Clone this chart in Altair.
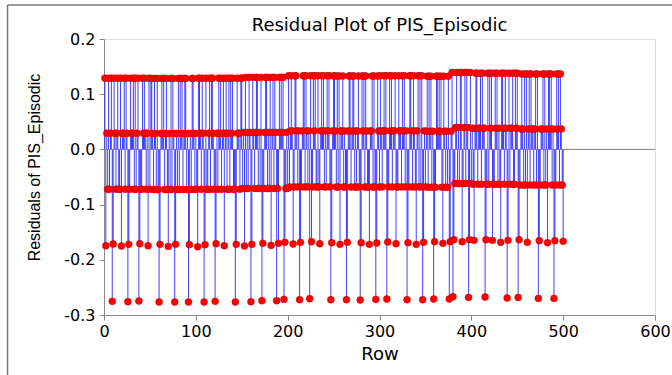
import altair as alt
import pandas as pd

# ---- data ----
# rows whose residual sits near -0.17
low1_rows = [2, 10, 19, 27, 39, 48, 61, 70, 78, 93, 102, 110, 122, 131, 144, 153, 161, 173, 182, 190,
             197, 206, 214, 226, 235, 248, 257, 265, 280, 289, 297, 309, 318, 331, 340, 348, 360, 369, 377, 381,
             390, 398, 403, 416, 423, 432, 440, 452, 461, 474, 483, 491, 500]
low1_vals = [-0.1745, -0.1714, -0.1750, -0.1720, -0.1708, -0.1745, -0.1720, -0.1757, -0.1720, -0.1726,
             -0.1763, -0.1726, -0.1708, -0.1745, -0.1720, -0.1750, -0.1720, -0.1702, -0.1739, -0.1702,
             -0.1684, -0.1714, -0.1684, -0.1672, -0.1708, -0.1690, -0.1720, -0.1684, -0.1690, -0.1720,
             -0.1696, -0.1678, -0.1708, -0.1690, -0.1720, -0.1684, -0.1672, -0.1702, -0.1672, -0.1636,
             -0.1672, -0.1636, -0.1648, -0.1636, -0.1648, -0.1684, -0.1648, -0.1636, -0.1684, -0.1654,
             -0.1690, -0.1654, -0.1666]
# rows whose residual sits near -0.27
low2_rows = [9, 26, 38, 60, 77, 92, 109, 121, 143, 160, 172, 188, 196, 213, 224, 247, 264, 279, 296, 308,
             330, 347, 359, 376, 380, 397, 415, 439, 451, 473, 490]
low2_vals = [-0.2753, -0.2759, -0.2747, -0.2765, -0.2765, -0.2765, -0.2765, -0.2753, -0.2765, -0.2759,
             -0.2741, -0.2741, -0.2717, -0.2723, -0.2705, -0.2723, -0.2723, -0.2729, -0.2717, -0.2711,
             -0.2723, -0.2723, -0.2711, -0.2711, -0.2668, -0.2681, -0.2675, -0.2693, -0.2681, -0.2699,
             -0.2699]
# remaining rows: residual level codes (1 ~ 0.13, 2 ~ 0.03, 3 ~ -0.07), in row order
dense_levels = {"1": 0.1290, "2": 0.0293, "3": -0.0722}
dense_codes = "".join([
    "1231321123213312", "2131231221313213", "3121232131123123", "1321213213231312",
    "2313121321132231", "1232311231213321", "3112323121321213", "2131213312231132",
    "1323121232113231", "3211323121312312", "1213231321231123", "2321131232131213",
    "3132121323121321", "1231312213232113", "2113232131213123", "3221313123123212",
    "1312132213312231", "2132311231232131", "3123213121323112", "1213123231213213",
    "2311321312132321", "1322131223131213", "3121323112312132", "2133121321231312",
    "1312232131322131", "3211213231213123", "2131321231213312",
])
# shift of the dense levels along the rows (read per block of rows)
block_ends = [50, 100, 150, 200, 250, 300, 350, 378, 400, 450, 500]
block_shift = [0.0, -0.0004, 0.0, 0.0015, 0.0043, 0.0040, 0.0043, 0.0036, 0.0103, 0.0091, 0.0076]

x_ticks = [0, 100, 200, 300, 400, 500, 600]
y_ticks = [-0.3, -0.2, -0.1, 0.0, 0.1, 0.2]

# ---- build table ----
sparse = dict(zip(low1_rows, low1_vals))
sparse.update(zip(low2_rows, low2_vals))
rows, vals = [], []
k = 0
for r in range(1, 501):
    if r in sparse:
        v = sparse[r]
    else:
        b = next(i for i, e in enumerate(block_ends) if r <= e)
        v = dense_levels[dense_codes[k]] + block_shift[b]
        k += 1
    rows.append(r)
    vals.append(round(v, 4))
df = pd.DataFrame({"Row": rows, "Residual": vals})

W, H = 551, 276
PL, PT = 104, 39
AX = "#8a8a8a"
FONT = "DejaVu Sans"

xenc = alt.X("Row:Q", scale=alt.Scale(domain=[0, 600], nice=False, zero=False),
             axis=alt.Axis(values=x_ticks, format="d", grid=False, tickSize=5, labelPadding=3,
                           labelFont=FONT, labelFontSize=16, labelColor="black", labelFlush=False,
                           domainColor=AX, tickColor=AX, title="Row", titleFont=FONT,
                           titleFontSize=18, titleFontWeight="normal", titleColor="black",
                           titleY=44, titleBaseline="alphabetic"))
yenc = alt.Y("Residual:Q", scale=alt.Scale(domain=[-0.3, 0.2], nice=False, zero=False),
             axis=alt.Axis(values=y_ticks, grid=False, tickSize=5, labelPadding=4,
                           labelExpr="replace(format(datum.value, '.1f'), '\u2212', '-')",
                           labelFont=FONT, labelFontSize=16, labelColor="black", labelFlush=False,
                           domainColor=AX, tickColor=AX, title="Residuals of PIS_Episodic",
                           titleFont="Liberation Sans", titleFontSize=16, titleFontWeight="normal",
                           titleColor="black", titleX=-70, titleY=128, titleAngle=270,
                           titleAlign="center", titleBaseline="middle"))

base = alt.Chart(df)
stems = base.mark_rule(color="#0000ff", strokeWidth=1, opacity=0.75).encode(
    x=xenc, y=yenc, y2=alt.datum(0))
zero = alt.Chart(pd.DataFrame({"z": [0.0]})).mark_rule(color="#808080", strokeWidth=1).encode(
    y=alt.Y("z:Q"))
dots = base.mark_point(filled=True, shape="circle", size=48, fill="#ff0000", stroke="#c00000",
                       strokeWidth=0.5, opacity=1).encode(x="Row:Q", y="Residual:Q")

one = pd.DataFrame({"a": [0]})
frame_top = alt.Chart(one).mark_rule(color="#7a7a7a", strokeWidth=1.5).encode(
    x=alt.value(7.5 - PL), x2=alt.value(672 - PL), y=alt.value(5 - PT))
frame_left = alt.Chart(one).mark_rule(color="#7a7a7a", strokeWidth=1.5).encode(
    x=alt.value(7.5 - PL), y=alt.value(5 - PT), y2=alt.value(375 - PT))

chart = alt.layer(stems, zero, dots, frame_top, frame_left).properties(
    width=W, height=H,
    title=alt.TitleParams("Residual Plot of PIS_Episodic", font=FONT, fontSize=18,
                          fontWeight="normal", color="black", anchor="middle", frame="group",
                          baseline="alphabetic", offset=0, dy=45),
    autosize=alt.AutoSizeParams(type="none"),
    padding={"left": PL, "top": PT, "right": 672 - PL - W, "bottom": 375 - PT - H},
).configure_view(stroke=None).configure(background="white")

chart.save("out.html", embed_options={"renderer": "svg", "actions": False})
